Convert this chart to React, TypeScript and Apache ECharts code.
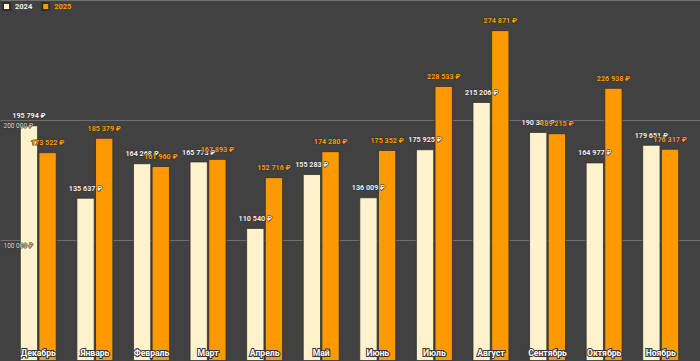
import React, { useEffect, useRef } from "react";
import * as echarts from "echarts";

const categories = ["Декабрь", "Январь", "Февраль", "Март", "Апрель", "Май", "Июнь", "Июль", "Август", "Сентябрь", "Октябрь", "Ноябрь"];
const series2024 = [195794, 135637, 164268, 165773, 110540, 155283, 136009, 175925, 215206, 190301, 164977, 179651];
const series2025 = [173522, 185379, 161960, 167893, 152716, 174280, 175352, 228533, 274871, 189215, 226938, 176317];
const seriesNames = ["2024", "2025"];
const colors = ["#FFF2CC", "#FF9900"];
const labelColors = ["#EEEEEE", "#FF9900"];

const fmt = (v: number) => {
  const s = Math.round(v).toString().replace(/\B(?=(\d{3})+(?!\d))/g, " ");
  return s + " ₽";
};

export default function App() {
  const ref = useRef<HTMLDivElement>(null);
  useEffect(() => {
    document.body.style.margin = "0";
    const chart = echarts.init(ref.current!, null, { renderer: "svg" });
    const font = "Roboto, 'Liberation Sans', Arial, sans-serif";
    const mk = (i: number, data: number[]) => ({
      name: seriesNames[i],
      type: "bar",
      xAxisIndex: 1,
      yAxisIndex: 2,
      data,
      barGap: "3%",
      barCategoryGap: "35%",
      z: 2,
      itemStyle: { color: colors[i], borderColor: "#2e2e2e", borderWidth: 0.8 },
      label: {
        show: true,
        position: "top",
        distance: 6,
        formatter: (p: any) => fmt(p.value),
        color: labelColors[i],
        fontFamily: font,
        fontSize: 7.2,
        fontWeight: "bold",
        textBorderColor: "#333",
        textBorderWidth: 1,
      },
    });
    chart.setOption({
      animation: false,
      backgroundColor: "#414141",
      textStyle: { fontFamily: font },
      legend: {
        left: 2,
        top: 2,
        padding: 0,
        itemWidth: 7,
        itemHeight: 7,
        itemGap: 9,
        icon: "rect",
        data: seriesNames.map((n, i) => ({ name: n, textStyle: { color: labelColors[i] } })),
        textStyle: { fontSize: 7.5, fontWeight: "bold", fontFamily: font },
      },
      grid: [
        { left: 0, right: 0, top: 0, bottom: 0 },
        { left: 10, right: 11, top: 0, bottom: 0 },
      ],
      xAxis: [
        { type: "value", gridIndex: 0, min: 0, max: 1, show: false },
        {
          type: "category",
          gridIndex: 1,
          data: categories,
          axisLine: { show: false },
          axisTick: { show: false },
          axisLabel: {
            inside: true,
            margin: 4,
            color: "#FFFFFF",
            fontSize: 8.6,
            fontWeight: "bold",
            fontFamily: font,
            textBorderColor: "#333333",
            textBorderWidth: 2,
            interval: 0,
          },
          z: 10,
        },
      ],
      yAxis: [
        {
          type: "value",
          gridIndex: 0,
          position: "left",
          min: 0,
          max: 300000,
          interval: 100000,
          axisLine: { show: false },
          axisTick: { show: false },
          axisLabel: { show: false },
          splitLine: { lineStyle: { color: "#6e6e6e", width: 1 } },
          z: 0,
        },
        {
          type: "value",
          gridIndex: 0,
          position: "left",
          offset: 0,
          min: 0,
          max: 300000,
          interval: 100000,
          axisLine: { show: false },
          axisTick: { show: false },
          splitLine: { show: false },
          axisLabel: {
            inside: true,
            margin: 3,
            color: "#DDDDDD",
            fontSize: 6.5,
            fontFamily: font,
            verticalAlign: "top",
            padding: [2, 0, 0, 0],
            overflow: "none",
            formatter: (v: number) => (v === 100000 || v === 200000 ? fmt(v) : ""),
            textBorderColor: "#333",
            textBorderWidth: 1,
          },
          z: 12,
        },
        { type: "value", gridIndex: 1, position: "left", min: 0, max: 300000, show: false, splitLine: { show: false } },
      ],
      series: [mk(0, series2024), mk(1, series2025)],
    });
    return () => chart.dispose();
  }, []);
  return <div ref={ref} style={{ width: 700, height: 361, position: "absolute", left: 0, top: 0 }} />;
}
